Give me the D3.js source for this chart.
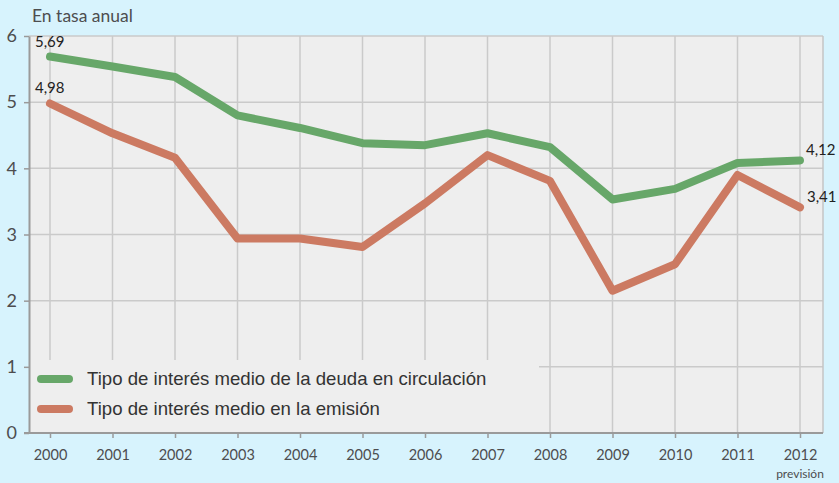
<!DOCTYPE html>
<html>
<head>
<meta charset="utf-8">
<script src="https://cdn.jsdelivr.net/npm/d3@7"></script>
<style>
  body { margin: 0; background: #d7f3fd; }
  svg { display: block; }
</style>
</head>
<body>
<div id="chart"></div>
<script>
var years = ['2000', '2001', '2002', '2003', '2004', '2005', '2006', '2007', '2008', '2009', '2010', '2011', '2012'];
var deuda = [5.69, 5.54, 5.38, 4.80, 4.61, 4.38, 4.35, 4.53, 4.32, 3.53, 3.69, 4.08, 4.12];
var emision = [4.98, 4.53, 4.16, 2.94, 2.94, 2.81, 3.47, 4.20, 3.81, 2.15, 2.55, 3.90, 3.41];
var yTicks = [0, 1, 2, 3, 4, 5, 6];
var seriesNames = ['Tipo de interés medio de la deuda en circulación', 'Tipo de interés medio en la emisión'];
var colors = ['#67a769', '#cc7a62'];

var width = 839;
var height = 483;
// plot area edges (window.top is reserved, so use own names)
var pLeft = 29, pRight = 823, pTop = 36, pBottom = 433;

var svg = d3.select('#chart')
  .append('svg')
  .attr('width', width)
  .attr('height', height);

// scales
var x = d3.scalePoint()
  .domain(years)
  .range([50, 800]);
var y = d3.scaleLinear()
  .domain([0, 6])
  .range([pBottom, pTop]);

// plot background
svg.append('rect')
  .attr('x', pLeft).attr('y', pTop)
  .attr('width', pRight - pLeft).attr('height', pBottom - pTop)
  .attr('fill', '#eeeeee');

// gridlines
svg.append('g')
  .selectAll('line')
  .data(yTicks.filter(function (d) { return d > 0; }))
  .enter().append('line')
  .attr('x1', pLeft).attr('x2', pRight)
  .attr('y1', function (d) { return y(d); })
  .attr('y2', function (d) { return y(d); })
  .attr('stroke', '#cacaca').attr('stroke-width', 1.5);
svg.append('g')
  .selectAll('line')
  .data(years)
  .enter().append('line')
  .attr('x1', function (d) { return x(d); })
  .attr('x2', function (d) { return x(d); })
  .attr('y1', pTop).attr('y2', pBottom)
  .attr('stroke', '#cacaca').attr('stroke-width', 1.5);

// right border
svg.append('line')
  .attr('x1', pRight).attr('x2', pRight)
  .attr('y1', pTop).attr('y2', pBottom)
  .attr('stroke', '#c4c4c4').attr('stroke-width', 1.5);

// legend box covers grid
svg.append('rect')
  .attr('x', pLeft + 1).attr('y', 360)
  .attr('width', 538 - pLeft).attr('height', pBottom - 360)
  .attr('fill', '#eeeeee');

// axes
var yAxis = svg.append('g')
  .attr('transform', 'translate(' + pLeft + ',0)')
  .call(d3.axisLeft(y).tickValues(yTicks).tickFormat(d3.format('d'))
    .tickSize(5).tickPadding(7).tickSizeOuter(0));
var xAxis = svg.append('g')
  .attr('transform', 'translate(0,' + pBottom + ')')
  .call(d3.axisBottom(x).tickSize(5).tickPadding(12).tickSizeOuter(0));
xAxis.select('.domain').attr('d', 'M' + (pLeft - 5) + ',0H' + pRight);

[yAxis, xAxis].forEach(function (a) {
  a.selectAll('.domain').attr('stroke', '#9a9a9a').attr('stroke-width', 2);
  a.selectAll('.tick line').attr('stroke', '#9a9a9a').attr('stroke-width', 1.5);
  a.selectAll('text')
    .attr('fill', '#4d4d4f')
    .style('font-family', 'Lato, "DejaVu Sans", sans-serif');
});
yAxis.selectAll('text').style('font-size', '18px');
xAxis.selectAll('text').style('font-size', '14.5px');

svg.append('text')
  .attr('x', x('2012')).attr('y', 478)
  .attr('text-anchor', 'middle')
  .attr('fill', '#4d4d4f')
  .style('font-family', 'Lato, sans-serif')
  .style('font-size', '12px')
  .text('previsión');

// title
svg.append('text')
  .attr('x', 32).attr('y', 22)
  .attr('fill', '#4d4d4f')
  .style('font-family', 'Lato, sans-serif')
  .style('font-size', '17.5px')
  .text('En tasa anual');

// lines
var line = d3.line()
  .x(function (d, i) { return x(years[i]); })
  .y(function (d) { return y(d); });

[deuda, emision].forEach(function (s, k) {
  svg.append('path')
    .datum(s)
    .attr('d', line)
    .attr('fill', 'none')
    .attr('stroke', colors[k])
    .attr('stroke-width', 8)
    .attr('stroke-linecap', 'round')
    .attr('stroke-linejoin', 'round');
});

// value labels
var labels = [
  { v: deuda[0], yr: years[0], dx: -15, dy: -10 },
  { v: emision[0], yr: years[0], dx: -15, dy: -10 },
  { v: deuda[12], yr: years[12], dx: 6, dy: -5 },
  { v: emision[12], yr: years[12], dx: 7, dy: -5 }
];
svg.selectAll('text.val')
  .data(labels)
  .enter().append('text')
  .attr('class', 'val')
  .attr('x', function (d) { return x(d.yr) + d.dx; })
  .attr('y', function (d) { return y(d.v) + d.dy; })
  .attr('fill', '#222')
  .style('font-family', 'Lato, sans-serif')
  .style('font-size', '15px')
  .text(function (d) { return d3.format('.2f')(d.v).replace('.', ','); });

// legend
var leg = svg.append('g');
seriesNames.forEach(function (n, i) {
  var ly = 379 + i * 30;
  leg.append('line')
    .attr('x1', 41).attr('x2', 69)
    .attr('y1', ly).attr('y2', ly)
    .attr('stroke', colors[i])
    .attr('stroke-width', 8)
    .attr('stroke-linecap', 'round');
  leg.append('text')
    .attr('x', 87).attr('y', ly + 6)
    .attr('fill', '#333')
    .style('font-family', '"Liberation Sans", Arial, sans-serif')
    .style('font-size', '18.6px')
    .text(n);
});
</script>
</body>
</html>
